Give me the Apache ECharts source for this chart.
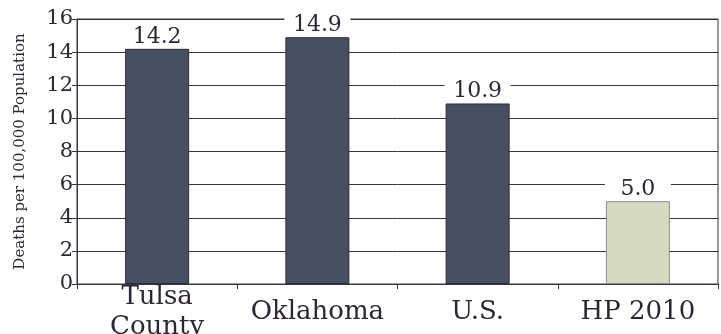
<!DOCTYPE html>
<html><head><meta charset="utf-8">
<script src="https://cdn.jsdelivr.net/npm/echarts@6/dist/echarts.min.js"></script>
<style>html,body{margin:0;padding:0;background:#fff}#c{width:721px;height:334px}</style>
</head><body><div id="c"></div>
<script>
var categories = ['Tulsa\nCounty', 'Oklahoma', 'U.S.', 'HP 2010'];
var values = [14.2, 14.9, 10.9, 5.0];
var barColors = ['#475063', '#475063', '#475063', '#d5dbc0'];
var borderColors = ['#2e2a38', '#2e2a38', '#2e2a38', '#8a8a8a'];
var yTicks = [0, 2, 4, 6, 8, 10, 12, 14, 16];
var FONT = '"DejaVu Serif", serif';
var TXT = '#2e2636';
var chart = echarts.init(document.getElementById('c'));
chart.setOption({
  animation: false,
  grid: {left: 77, right: 3, top: 19, bottom: 50, containLabel: false, outerBoundsMode: 'none',
    show: true, borderColor: '#3a3440', borderWidth: 1, backgroundColor: 'transparent'},
  xAxis: {
    type: 'category', data: categories,
    axisLine: {lineStyle: {color: '#3a3440', width: 1}},
    axisTick: {show: true, length: 5, lineStyle: {color: '#3a3440'}},
    axisLabel: {color: TXT, fontFamily: FONT, fontSize: 26, lineHeight: 30, margin: 28,
      verticalAlign: 'middle', interval: 0}
  },
  yAxis: {
    type: 'value', min: 0, max: 16, interval: 2,
    name: 'Deaths per 100,000 Population', nameLocation: 'middle', nameGap: 49,
    nameTextStyle: {color: TXT, fontFamily: FONT, fontSize: 15},
    axisLine: {show: true, lineStyle: {color: '#3a3440'}},
    axisTick: {show: true, length: 5, lineStyle: {color: '#3a3440'}},
    axisLabel: {color: TXT, fontFamily: FONT, fontSize: 21, margin: 4,
      formatter: function (v) { return yTicks.indexOf(v) >= 0 ? String(v) : ''; }},
    splitLine: {show: true, lineStyle: {color: '#3a3440', width: 1}}
  },
  series: [{
    type: 'bar', barWidth: 64,
    data: values.map(function (v, i) {
      return {value: v, itemStyle: {color: barColors[i], borderColor: borderColors[i], borderWidth: 1}};
    }),
    label: {show: true, position: 'top', distance: 1, color: TXT, fontFamily: FONT, fontSize: 22,
      backgroundColor: '#fff', width: 66, align: 'center', padding: 0,
      formatter: function (p) { return p.value.toFixed(1); }}
  }]
});
</script></body></html>
